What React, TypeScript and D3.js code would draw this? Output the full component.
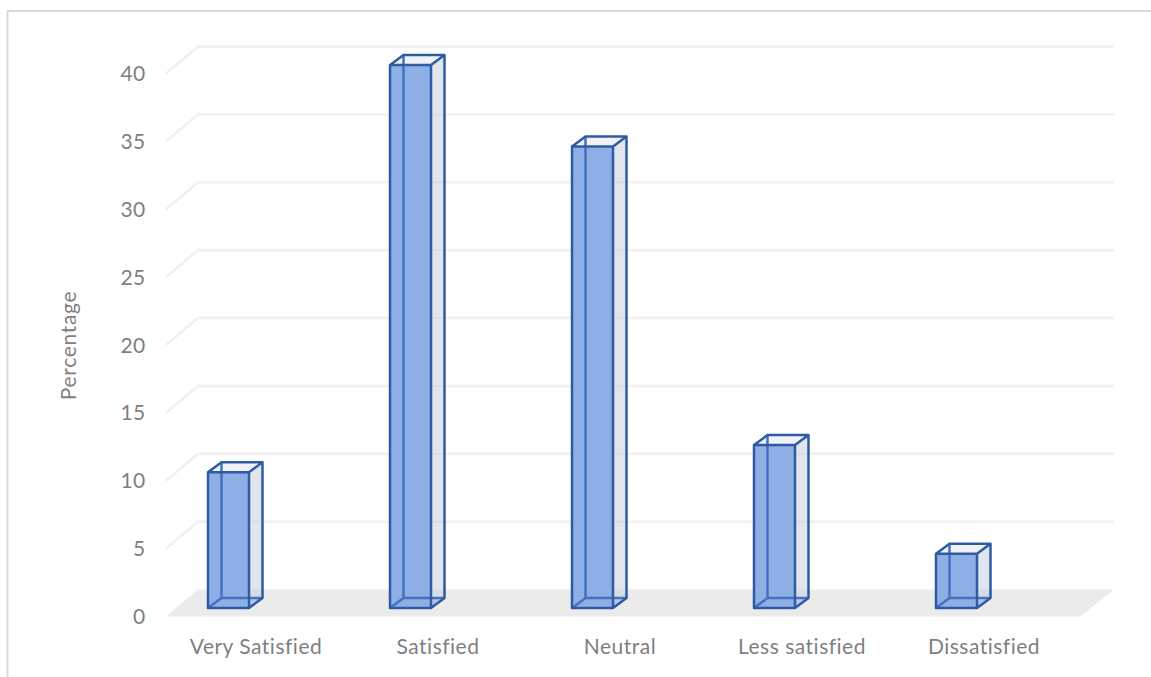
import React from "react";
import * as d3 from "d3";

// Survey responses, percent of respondents per satisfaction level
const categories = ["Very Satisfied", "Satisfied", "Neutral", "Less satisfied", "Dissatisfied"];
const percentages = [10, 40, 34, 12, 4];
const yTicks = [0, 5, 10, 15, 20, 25, 30, 35, 40];

const WIDTH = 1151;
const HEIGHT = 677;
const FONT = "Lato, 'Open Sans', sans-serif";
const TEXT = "#7f7f7f";
const EDGE = "#2f5ba3";

// Height scale on the front plane of the bars
const y = d3.scaleLinear().domain([0, 40]).range([608, 65]);
// Band scale for the front face of each column
const x = d3.scaleBand().domain(categories).range([117, 1068]).paddingInner(0.7747).paddingOuter(0.5);

// Projection of the depth axis
const BAR_DX = 13.5;
const BAR_DY = 10;
const WALL_DX = 32;
const WALL_DY = 27;
const wallY = (v: number) => y(v) - 18.5;
const FLOOR_LEFT = 166;
const FLOOR_RIGHT = 1080;

const line = d3.line();

export default function App() {
  const barW = x.bandwidth();
  return (
    <svg
      width={WIDTH}
      height={HEIGHT}
      viewBox={`0 0 ${WIDTH} ${HEIGHT}`}
      style={{ position: "fixed", left: 0, top: 0, background: "#fff" }}
    >
      <path d={`M7.5 677V11H1151`} fill="none" stroke="#d9d9d9" strokeWidth={2} />

      {/* Floor */}
      <path
        d={
          line([
            [FLOOR_LEFT, wallY(0) + WALL_DY],
            [FLOOR_LEFT + WALL_DX, wallY(0)],
            [FLOOR_RIGHT + WALL_DX + 2, wallY(0)],
            [FLOOR_RIGHT, wallY(0) + WALL_DY],
          ])! + "Z"
        }
        fill="#ebebeb"
      />

      {/* Gridlines folded across the side wall and the back wall */}
      {yTicks.slice(1).map((t) => (
        <path
          key={t}
          d={
            line([
              [FLOOR_LEFT, wallY(t) + WALL_DY],
              [FLOOR_LEFT + WALL_DX, wallY(t)],
              [FLOOR_RIGHT + WALL_DX + 2, wallY(t)],
            ])!
          }
          fill="none"
          stroke="#f0f0f0"
          strokeWidth={2.5}
        />
      ))}

      {/* Columns */}
      {categories.map((c, i) => {
        const x0 = x(c)!;
        const x1 = x0 + barW;
        const yT = y(percentages[i]);
        const yB = y(0);
        const dx = BAR_DX;
        const dy = BAR_DY;
        return (
          <g key={c} strokeLinejoin="round">
            <path
              d={line([[x1, yT], [x1 + dx, yT - dy], [x1 + dx, yB - dy], [x1, yB]])! + "Z"}
              fill="#c8cfe0"
              fillOpacity={0.55}
            />
            <path
              d={line([[x0, yT], [x0 + dx, yT - dy], [x1 + dx, yT - dy], [x1, yT]])! + "Z"}
              fill="#dfe2ec"
              fillOpacity={0.45}
            />
            <path
              d={line([[x0, yB], [x0 + dx, yB - dy], [x1 + dx, yB - dy], [x1, yB]])! + "Z"}
              fill="#8fb0e6"
              fillOpacity={0.5}
            />
            <rect x={x0} y={yT} width={barW} height={yB - yT} fill="#8eaee6" />
            <path
              d={line([[x0 + dx, yT - dy], [x0 + dx, yB - dy]])! + line([[x0 + dx, yB - dy], [x1 + dx, yB - dy]])! + line([[x0, yB], [x0 + dx, yB - dy]])!}
              fill="none"
              stroke="#4272c0"
              strokeWidth={2.5}
            />
            <path
              d={
                line([[x0, yT], [x1, yT], [x1, yB], [x0, yB]])! + "Z" +
                line([[x0, yT], [x0 + dx, yT - dy], [x1 + dx, yT - dy], [x1, yT]])! +
                line([[x1 + dx, yT - dy], [x1 + dx, yB - dy], [x1, yB]])!
              }
              fill="none"
              stroke={EDGE}
              strokeWidth={2.5}
            />
          </g>
        );
      })}

      {/* Value axis labels */}
      {yTicks.map((t) => (
        <text
          key={t}
          x={145.5}
          y={y(t) + 16}
          textAnchor="end"
          fontFamily={FONT}
          fontSize={21}
          letterSpacing={0.3}
          fill={TEXT}
        >
          {t}
        </text>
      ))}

      {/* Category labels */}
      {categories.map((c) => (
        <text
          key={c}
          x={x(c)! + barW / 2 + 27.5}
          y={654}
          textAnchor="middle"
          fontFamily={FONT}
          fontSize={21}
          letterSpacing={0.5}
          fill={TEXT}
        >
          {c}
        </text>
      ))}

      <text
        transform="translate(76,345.5) rotate(-90)"
        textAnchor="middle"
        fontFamily={FONT}
        fontSize={21}
        letterSpacing={0.7}
        fill={TEXT}
      >
        Percentage
      </text>
    </svg>
  );
}
